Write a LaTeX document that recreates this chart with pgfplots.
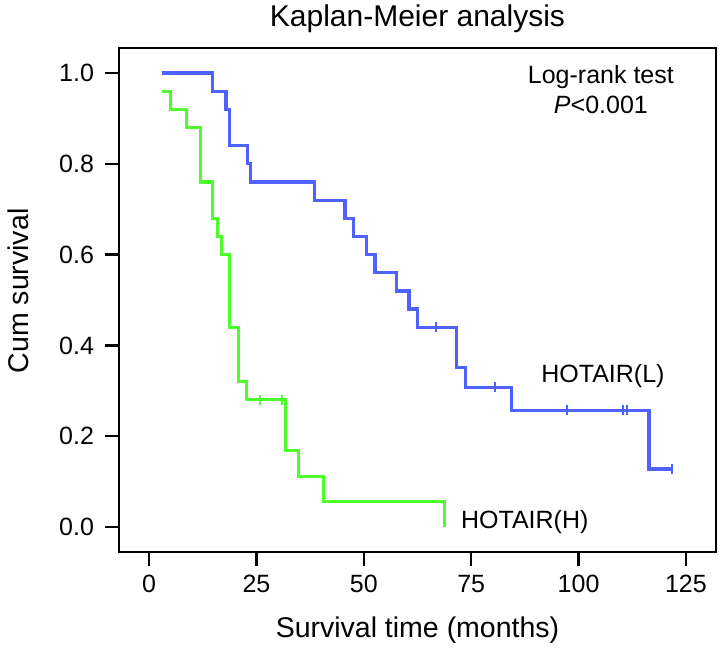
\documentclass[border=0pt]{standalone}
\usepackage{fontspec}
\setmainfont{Liberation Sans}
\usepackage{pgfplots}
\pgfplotsset{compat=1.18}
\definecolor{kmblue}{RGB}{79,97,255}
\definecolor{kmgreen}{RGB}{77,255,43}
\begin{document}
\begin{tikzpicture}[x=1pt,y=1pt]
\begin{axis}[
  at={(119pt,101pt)}, anchor=south west,
  scale only axis, width=597pt, height=504pt,
  xmin=-7, xmax=132, ymin=-0.055, ymax=1.055,
  xtick={0,25,50,75,100,125},
  ytick={0,0.2,0.4,0.6,0.8,1.0},
  yticklabel style={/pgf/number format/.cd, fixed, fixed zerofill, precision=1},
  /pgf/number format/assume math mode=true,
  tick align=outside, xtick pos=bottom, ytick pos=left,
  major tick length=14pt,
  every tick/.style={black, line width=2.4pt},
  axis line style={line width=2.8pt},
  ticklabel style={font=\fontsize{25}{30}\selectfont},
  xticklabel shift=6pt, yticklabel shift=7.5pt,
  label style={font=\fontsize{28.5}{34}\selectfont},
  title style={font=\fontsize{30}{36}\selectfont, at={(axis description cs:0.5,1.0317)}, anchor=base},
  title={Kaplan-Meier analysis},
  xlabel={Survival time (months)},
  ylabel={Cum survival},
  xlabel style={at={(axis description cs:0.5,-0.1706)}, anchor=base},
  ylabel style={at={(axis description cs:-0.152,0.518)}, anchor=base},
  clip=false,
]
% HOTAIR(L)
\addplot[const plot, color=kmblue, line width=3.2pt, mark=none] coordinates {
  (3.0,1.0) (14.8,0.96) (17.9,0.92) (18.7,0.84) (22.9,0.80) (23.7,0.76)
  (38.6,0.72) (45.6,0.68) (47.6,0.64) (50.7,0.60) (52.6,0.56) (57.6,0.52)
  (60.5,0.48) (62.5,0.44) (71.6,0.352) (73.6,0.308) (84.4,0.2567)
  (116.4,0.128) (121.7,0.128)
};
\addplot[only marks, color=kmblue, mark=|, mark size=5pt, mark options={line width=2pt}] coordinates {
  (66.8,0.44) (80.6,0.308) (97.4,0.2567) (110.4,0.2567) (111.3,0.2567) (121.7,0.128)
};
% HOTAIR(H)
\addplot[const plot, color=kmgreen, line width=3.2pt, mark=none] coordinates {
  (3.0,0.96) (5.0,0.92) (8.8,0.88) (11.9,0.76) (14.8,0.68) (15.9,0.64)
  (16.8,0.60) (18.7,0.44) (20.8,0.32) (22.7,0.28) (31.7,0.168) (34.8,0.112)
  (40.6,0.056) (68.7,0.0)
};
\addplot[only marks, color=kmgreen, mark=|, mark size=5pt, mark options={line width=2pt}] coordinates {
  (25.8,0.28) (30.9,0.28)
};
\node[font=\fontsize{25}{30}\selectfont, anchor=base] at (axis cs:105.2,0.9758) {Log-rank test};
\node[font=\fontsize{25}{30}\selectfont, anchor=base] at (axis cs:105.2,0.9097) {\textit{P}<0.001};
\node[font=\fontsize{25}{30}\selectfont, anchor=base west, inner sep=0pt] at (axis cs:91.3,0.3194) {HOTAIR(L)};
\node[font=\fontsize{25}{30}\selectfont, anchor=base west, inner sep=0pt] at (axis cs:72.6,-0.0022) {HOTAIR(H)};
\end{axis}
\pgfresetboundingbox
\useasboundingbox (0,0) rectangle (720,653);
\end{tikzpicture}
\end{document}
